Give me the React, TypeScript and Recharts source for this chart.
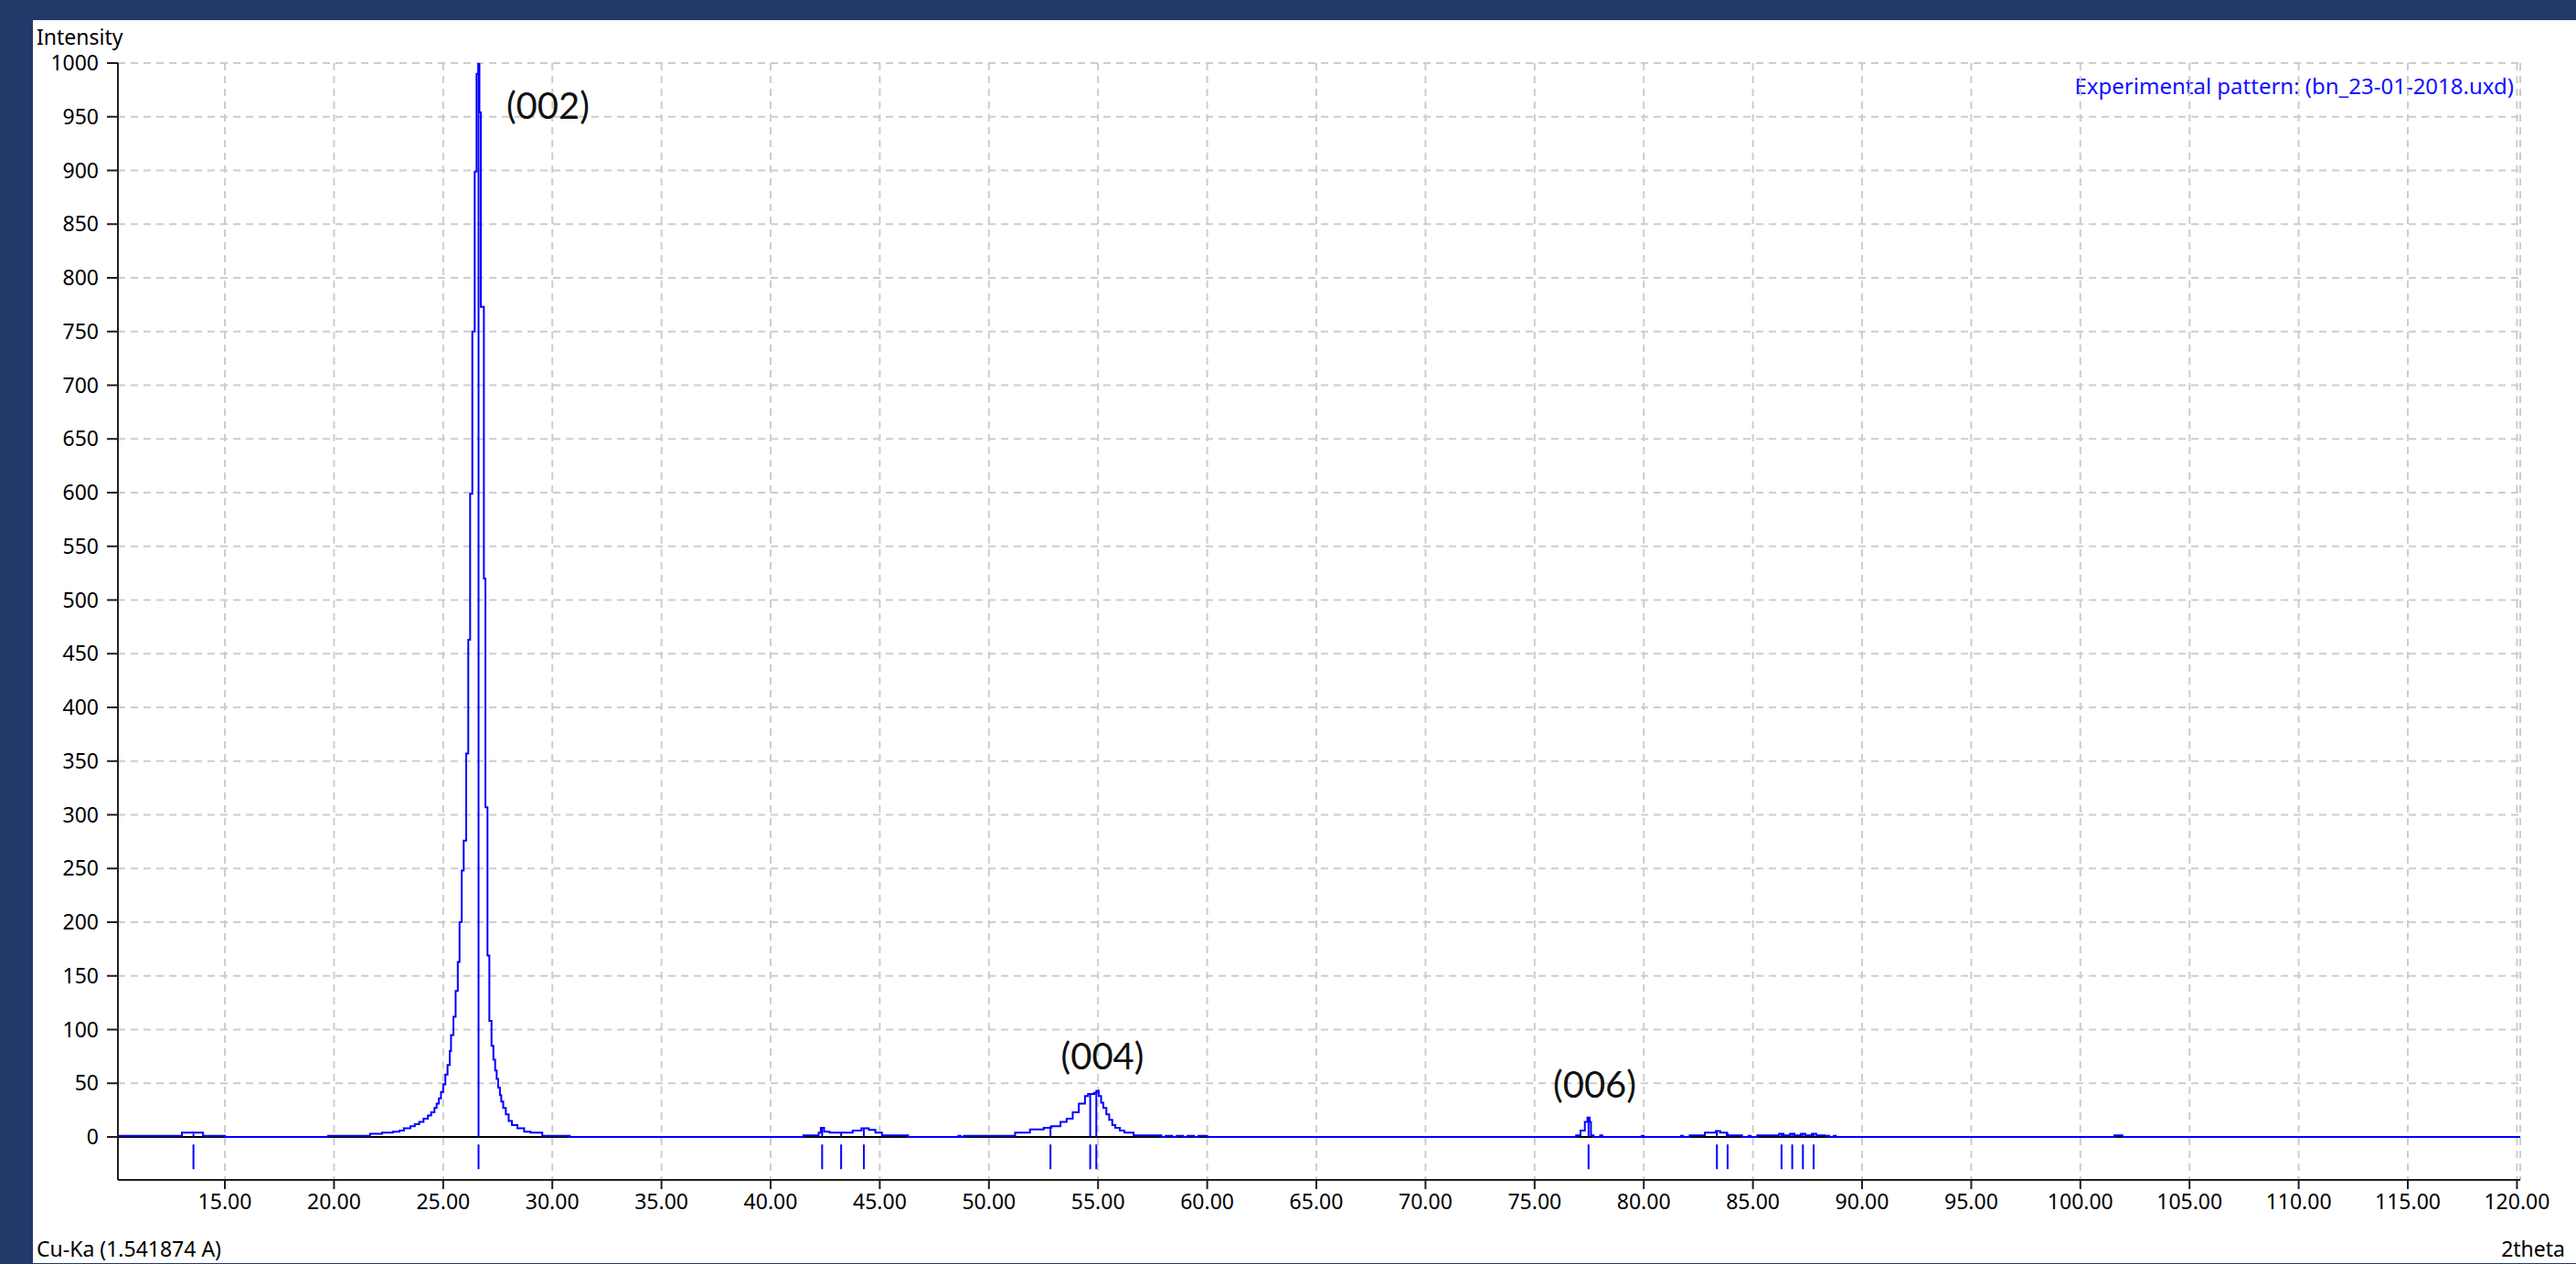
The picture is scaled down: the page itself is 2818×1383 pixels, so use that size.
import React from "react";
import {
  LineChart,
  Line,
  XAxis,
  YAxis,
  CartesianGrid,
  ReferenceLine,
  ReferenceDot,
} from "recharts";

// measured pattern: 2theta (deg) and intensity level after each step
const twoTheta = [
  10.1, 13.03, 14.0, 15.0, 19.72, 21.65, 22.2, 22.7, 23.0, 23.2,
  23.5, 23.7, 23.9, 24.1, 24.3, 24.45, 24.6, 24.7, 24.8, 24.9,
  25.0, 25.1, 25.2, 25.3, 25.36, 25.47, 25.57, 25.67, 25.75, 25.85,
  25.94, 26.055, 26.15, 26.235, 26.335, 26.445, 26.53, 26.61, 26.66, 26.725,
  26.865, 26.935, 27.03, 27.115, 27.215, 27.3, 27.38, 27.45, 27.52, 27.6,
  27.66, 27.75, 27.87, 28.0, 28.15, 28.4, 28.71, 29.0, 29.54, 30.8,
  41.5, 42.2, 42.3, 42.45, 42.7, 43.76, 44.16, 44.5, 44.8, 45.1,
  46.3, 48.6, 48.7, 48.85, 51.2, 51.88, 52.51, 52.86, 53.28, 53.56,
  53.84, 54.12, 54.4, 54.54, 54.82, 54.93, 55.03, 55.14, 55.24, 55.38,
  55.51, 55.65, 55.79, 56.0, 56.21, 56.63, 57.9, 58.1, 58.4, 58.6,
  58.9, 59.1, 59.4, 59.6, 60.0, 76.9, 77.1, 77.3, 77.42, 77.52,
  77.58, 77.7, 78.0, 78.1, 79.9, 80.0, 81.7, 81.8, 82.1, 82.8,
  83.3, 83.5, 83.8, 84.5, 84.8, 84.9, 85.2, 86.2, 86.4, 86.7,
  86.9, 87.2, 87.4, 87.7, 87.9, 88.3, 88.5, 88.7, 88.8, 101.56,
  101.93, 120.15,
];
const intensity = [
  1, 4, 1, 0, 1, 3, 4, 5, 6, 8,
  10, 12, 14, 17, 20, 23, 27, 31, 36, 42,
  49, 58, 67, 80, 95, 112, 136, 163, 200, 248,
  276, 357, 463, 599, 750, 899, 990, 1000, 954, 773,
  520, 307, 169, 108, 85, 72, 62, 54, 46, 39,
  33, 27, 21, 15, 11, 8, 5, 4, 1, 0,
  1.5, 4, 8.5, 5, 4, 6, 8, 6.5, 4, 1.5,
  0, 1, 0, 1, 4, 7, 8.5, 10, 14, 17,
  23, 31, 38, 40, 41, 43, 38, 32, 27, 21,
  16, 11, 8.5, 6, 4, 1.5, 0, 1, 0, 1,
  0, 1, 0, 1, 0, 1.5, 6, 14, 18, 14,
  1.5, 0, 1.5, 0, 1, 0, 1, 0, 1.5, 4,
  5.5, 4, 1.5, 0, 1, 0, 1.5, 3, 1.5, 3,
  1.5, 3, 1.5, 3, 1.5, 1, 0, 1, 0, 1.5,
  0, 0,
];

// reference peak positions (sticks) and the height of the marker line above each
const peakPos = [13.56, 26.62, 42.36, 43.23, 44.27, 52.82, 54.64, 54.92, 77.47, 83.35, 83.84, 86.31, 86.8, 87.29, 87.78];
const peakTop = [3, 1000, 8.5, 4, 8, 10, 40, 43, 18, 5.5, 4, 3, 3, 3, 3];

const xTicks = [15, 20, 25, 30, 35, 40, 45, 50, 55, 60, 65, 70, 75, 80, 85, 90, 95, 100, 105, 110, 115, 120];
const yTicks = [0, 50, 100, 150, 200, 250, 300, 350, 400, 450, 500, 550, 600, 650, 700, 750, 800, 850, 900, 950, 1000];

const hklLabels = ["(002)", "(004)", "(006)"];
const hklX = [29.8, 55.2, 77.75];
const hklY = [960, 75, 49];

const X_DOMAIN = [10.1, 120.15];
const Y_DOMAIN = [-40, 1000];

const pattern = twoTheta.map((x, i) => ({ x, y: intensity[i] }));
const zeroLine = [{ x: X_DOMAIN[0], y: 0 }, { x: X_DOMAIN[1], y: 0 }];

const BLUE = "#0000ff";
const AXIS = "#1e1e1e";
const FONT = "'Noto Sans', sans-serif";

const tickStyle = { fill: "#000", fontSize: 23, fontFamily: FONT };

export default function App() {
  return (
    <div
      style={{
        position: "fixed",
        left: 0,
        top: 0,
        width: 2818,
        height: 1383,
        background: "#213a6a",
        overflow: "hidden",
      }}
    >
      <div
        style={{
          position: "absolute",
          left: 36,
          top: 22,
          width: 2782,
          height: 1360,
          background: "#fff",
          fontFamily: FONT,
          color: "#000",
        }}
      >
        <div style={{ position: "absolute", left: 4, top: 2, fontSize: 23 }}>Intensity</div>
        <div style={{ position: "absolute", left: 4, top: 1328, fontSize: 23 }}>Cu-Ka (1.541874 A)</div>
        <div style={{ position: "absolute", right: 12, top: 1328, fontSize: 23 }}>2theta</div>
        <div style={{ position: "absolute", right: 68, top: 55, fontSize: 24, color: "#1010ff" }}>
          Experimental pattern: (bn_23-01-2018.uxd)
        </div>

        <LineChart width={2782} height={1360} margin={{ top: 47, right: 61, bottom: 41, left: 0 }}>
          <CartesianGrid stroke="#cdcdcd" strokeWidth={2} strokeDasharray="8 6" />
          <XAxis
            type="number"
            dataKey="x"
            domain={X_DOMAIN}
            ticks={xTicks}
            allowDataOverflow
            tickFormatter={(v: number) => v.toFixed(2)}
            tick={tickStyle}
            tickSize={10}
            tickMargin={6}
            height={50}
            axisLine={{ stroke: AXIS, strokeWidth: 2 }}
            tickLine={{ stroke: AXIS, strokeWidth: 2 }}
          />
          <XAxis
            xAxisId="top"
            orientation="top"
            type="number"
            domain={X_DOMAIN}
            allowDataOverflow
            tick={false}
            tickLine={false}
            height={0}
            axisLine={{ stroke: AXIS, strokeWidth: 2 }}
          />
          <YAxis
            type="number"
            domain={Y_DOMAIN}
            ticks={yTicks}
            allowDataOverflow
            tick={tickStyle}
            tickSize={12}
            tickMargin={9}
            width={93}
            axisLine={{ stroke: AXIS, strokeWidth: 2 }}
            tickLine={{ stroke: AXIS, strokeWidth: 2 }}
          />
          <YAxis
            yAxisId="right"
            orientation="right"
            type="number"
            domain={Y_DOMAIN}
            allowDataOverflow
            tick={false}
            tickLine={false}
            width={0}
            axisLine={{ stroke: AXIS, strokeWidth: 2 }}
          />

          <Line
            data={zeroLine}
            dataKey="y"
            stroke="#000"
            strokeWidth={2}
            dot={false}
            isAnimationActive={false}
          />
          <Line
            data={pattern}
            dataKey="y"
            type="stepAfter"
            stroke={BLUE}
            strokeWidth={2}
            dot={false}
            isAnimationActive={false}
          />

          {peakPos.map((p, i) => (
            <ReferenceLine
              key={"top" + i}
              segment={[{ x: p, y: 0 }, { x: p, y: peakTop[i] }]}
              stroke={BLUE}
              strokeWidth={2}
            />
          ))}
          {peakPos.map((p) => (
            <ReferenceLine
              key={"stick" + p}
              segment={[{ x: p, y: -7 }, { x: p, y: -30 }]}
              stroke={BLUE}
              strokeWidth={2}
            />
          ))}

          {hklLabels.map((t, i) => (
            <ReferenceDot
              key={t}
              x={hklX[i]}
              y={hklY[i]}
              r={0}
              fill="none"
              stroke="none"
              label={{ value: t, position: "center", fill: "#111", fontSize: 40, fontFamily: "Lato, sans-serif" }}
            />
          ))}
        </LineChart>
      </div>
    </div>
  );
}
